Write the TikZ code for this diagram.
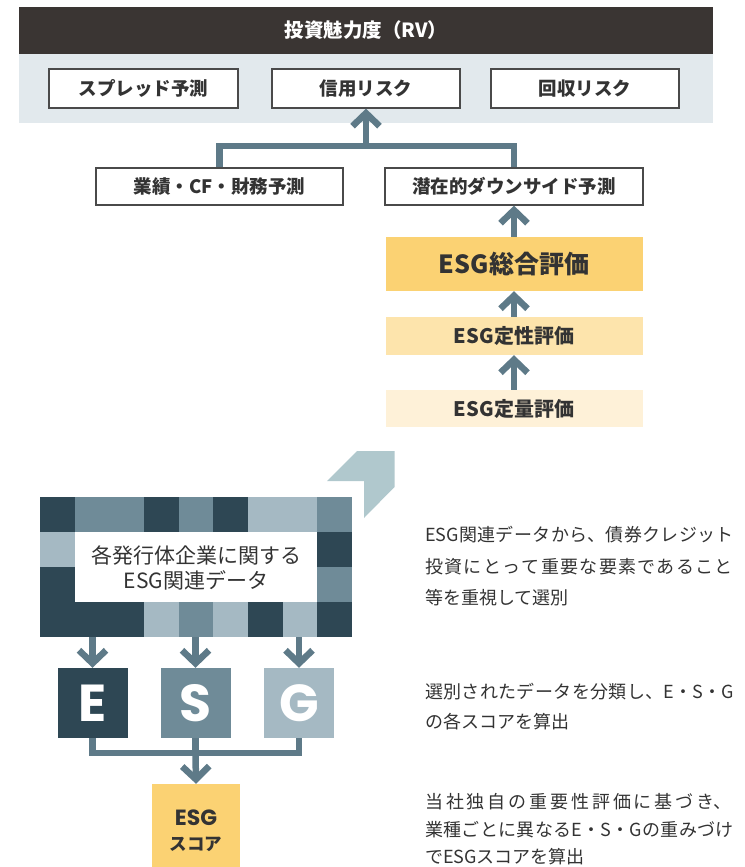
\documentclass[tikz,border=0pt]{standalone}
\usepackage{fontspec}
\setmainfont{Noto Sans CJK JP}
\newfontfamily\jp{Noto Sans CJK JP}
\newfontfamily\pop{Poppins}
\usetikzlibrary{arrows.meta}
\definecolor{barc}{HTML}{3A3533}
\definecolor{bandc}{HTML}{E2E9ED}
\definecolor{boxln}{HTML}{4A4A4A}
\definecolor{slate}{HTML}{5E7A88}
\definecolor{goldA}{HTML}{FBD273}
\definecolor{goldB}{HTML}{FDE4AC}
\definecolor{goldC}{HTML}{FEF1D8}
\definecolor{dk}{HTML}{2E4754}
\definecolor{md}{HTML}{6F8B98}
\definecolor{lt}{HTML}{A5B9C3}
\definecolor{chev}{HTML}{B0C8CD}
\definecolor{txt}{HTML}{333333}
\newcommand\fsz[1]{\fontsize{#1}{#1}\selectfont}
\newcommand\rfont{\jp\fontsize{18}{20}\selectfont\XeTeXlinebreaklocale "ja"\XeTeXlinebreakskip=0pt plus 1fil\relax}
\newcommand\J[1]{\parfillskip=0pt\relax #1}
\begin{document}
\begin{tikzpicture}[x=1pt,y=-1pt,
  tbox/.style={draw=boxln, line width=1.3pt, fill=white, text=txt, inner sep=0pt, font=\jp\bfseries\fsz{18.5}},
  gbox/.style={inner sep=0pt, minimum width=257pt, text=txt, font=\jp\bfseries\fsz{20}},
  link/.style={draw=slate, line width=6.5pt, line join=miter},
  arrowlink/.style={link, -{Straight Barb[length=13pt,width=27pt]}},
  letter/.style={inner sep=0pt, minimum width=70pt, minimum height=70pt, text=white, font=\pop\bfseries\fsz{52}},
  rline/.style={anchor=base west, inner sep=0pt, text=txt, font=\rfont},
  rjust/.style={rline, text width=309pt, align=justify},
]
\useasboundingbox (0,0) rectangle (744,867);
% top band
\node[fill=bandc, inner sep=0pt, minimum width=694pt, minimum height=69pt] (band) at (366,88.5) {};
\node[fill=barc, inner sep=0pt, minimum width=694pt, minimum height=47pt, text=white, font=\jp\bfseries\fsz{19.5}] (rv) at (366,30.5) {投資魅力度（RV）};
\node[tbox, minimum width=189pt, minimum height=39pt] (spread) at (143.5,88.5) {スプレッド予測};
\node[tbox, minimum width=188pt, minimum height=39pt] (credit) at (366,88.5) {信用リスク};
\node[tbox, minimum width=188pt, minimum height=39pt] (recov) at (585,88.5) {回収リスク};
% second row
\node[tbox, minimum width=247pt, minimum height=37pt] (perf) at (219.5,186.5) {業績・CF・財務予測};
\node[tbox, minimum width=258pt, minimum height=37pt] (down) at (514,186.5) {潜在的ダウンサイド予測};
\coordinate (j) at (366,146);
\draw[link] (perf.north) |- (j) -| (down.north);
\draw[arrowlink] (j) -- (credit.south);
% ESG evaluation stack
\node[gbox, fill=goldA, minimum height=54pt, font=\jp\bfseries\fsz{25}] (total) at (514,264) {ESG総合評価};
\node[gbox, fill=goldB, minimum height=38pt] (qual) at (514,336) {ESG定性評価};
\node[gbox, fill=goldC, minimum height=37pt] (quant) at (514,408.5) {ESG定量評価};
\draw[arrowlink] (total.north) -- (down.south);
\draw[arrowlink] (qual.north) -- (total.south);
\draw[arrowlink] (quant.north) -- (qual.south);
% chevron
\fill[chev] (327,481) -- (357,451) -- (394.5,451) -- (394.5,487) -- (364,518) -- (364,481) -- cycle;
% mosaic
\foreach \c/\r/\k in {0/0/dk,1/0/md,2/0/md,3/0/dk,4/0/md,5/0/dk,6/0/lt,7/0/lt,8/0/md,
  0/1/lt,8/1/dk,0/2/dk,8/2/md,
  0/3/dk,1/3/dk,2/3/dk,3/3/lt,4/3/md,5/3/lt,6/3/dk,7/3/lt,8/3/dk}
  \fill[\k] ({40+\c*34.667},{497+\r*35}) rectangle ++(34.8,35.2);
\node[inner sep=0pt, minimum width=312pt, minimum height=140pt] (mosaic) at (196,567) {};
\node[inner sep=0pt, align=center, text=txt, font=\jp\fontsize{21}{25}\selectfont] (datatext) at (196,568) {各発行体企業に関する\\ESG関連データ};
% E S G
\node[letter, fill=dk] (E) at (92.5,703) {E};
\node[letter, fill=md] (S) at (195.5,703) {S};
\node[letter, fill=lt] (G) at (299,703) {G};
\draw[arrowlink] (E.north |- mosaic.south) -- (E.north);
\draw[arrowlink] (S.north |- mosaic.south) -- (S.north);
\draw[arrowlink] (G.north |- mosaic.south) -- (G.north);
% score
\node[fill=goldA, inner sep=0pt, minimum width=88pt, minimum height=92pt] (score) at (196,830) {};
\node[text=txt, inner sep=0pt, font=\pop\bfseries\fsz{22}] (scoreA) at (196,818) {ESG};
\node[text=txt, inner sep=0pt, font=\jp\bfseries\fsz{17.5}] (scoreB) at (196,844) {スコア};
\coordinate (m) at (195.5,753);
\draw[link] (E.south) |- (m) -| (G.south);
\draw[link] (S.south) -- (m);
\draw[arrowlink] (m) -- (score.north);
% right texts
\node[rjust] (t1a) at (425,541.5) {\J{ESG関連データから、債券クレジット}};
\node[rjust] (t1b) at (425,573) {\J{投資にとって重要な要素であること}};
\node[rline] (t1c) at (425,604) {等を重視して選別};
\node[rjust] (t2a) at (425,698.5) {\J{選別されたデータを分類し、E・S・G}};
\node[rline] (t2b) at (425,728.5) {の各スコアを算出};
\node[rjust] (t3a) at (425,808.5) {\J{当社独自の重要性評価に基づき、}};
\node[rjust] (t3b) at (425,836.5) {\J{業種ごとに異なるE・S・Gの重みづけ}};
\node[rline] (t3c) at (425,863.5) {でESGスコアを算出};
\end{tikzpicture}
\end{document}
